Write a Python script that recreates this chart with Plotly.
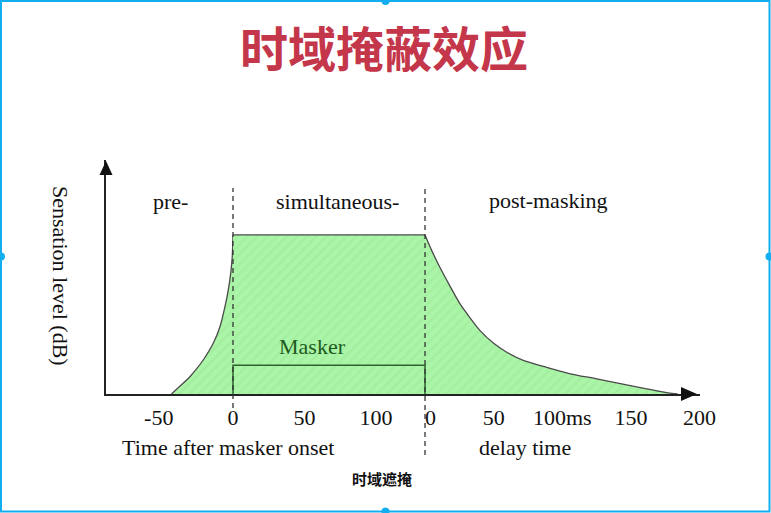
import plotly.graph_objects as go

# ---------------- data ----------------
# pre-masking rise (time after masker onset, ms)
pre_time = [-43, -37, -30.1, -25.5, -20.8, -13.8, -9.1, -5.6, -3.3, -1.6, -0.5, 0]
pre_level = [0, 4, 8.7, 12.6, 17.1, 25.5, 33.8, 43.9, 52.3, 60.7, 69.1, 80]

masker_end = 134.3          # masker offset on the onset time axis
plateau_level = 80
masker_level = 14.5

# post-masking decay (delay time after masker offset, ms)
post_delay = [0, 5, 10.9, 18, 25.5, 40.1, 50, 59.5, 72, 88.6, 105, 125.1, 145, 161.5, 178.5, 184]
post_level = [80, 72, 63.6, 54.5, 45.3, 31.9, 25.5, 21.0, 16.8, 13.4, 10.3, 7.6, 4.8, 2.6, 0.4, 0]
delay_scale = 0.96          # drawing scale of delay axis relative to onset axis

onset_tick_vals = [-50, 0, 50, 100]
onset_tick_text = ["-50\u00a0", "0", "50", "100"]
delay_tick_vals = [0, 50, 100, 150, 200]
delay_tick_text = ["\u00a0\u00a00", "50", "100ms", "150", "200"]

region_labels = ["pre-", "simultaneous-", "post-masking"]

# ---------------- layout constants ----------------
W_FIG, H_FIG = 771, 513
ML, MR, MT, MB = 106, 71, 160, 119
PW = W_FIG - ML - MR
PH = H_FIG - MT - MB
X_RANGE = [-88.8, 326.6]
Y_RANGE = [0, 117.7]
BASE_PX = H_FIG - MB


def px_x(p):
    return (p - ML) / PW


def px_y(p):
    return (BASE_PX - p) / PH


post_x = [masker_end + d * delay_scale for d in post_delay]

tick_vals = onset_tick_vals + [masker_end + d * delay_scale for d in delay_tick_vals]
tick_text = onset_tick_text + delay_tick_text

SERIF = "Liberation Serif, Times New Roman, serif"
FILL = "#abf5a8"
PATTERN = dict(shape="/", bgcolor=FILL, fgcolor="#9be996", size=7, solidity=0.35)
OUTLINE = dict(color="#4a4a4a", width=1.3)

fig = go.Figure()

segments = [
    (pre_time, pre_level, "spline"),
    ([0, masker_end], [plateau_level, plateau_level], "linear"),
    (post_x, post_level, "spline"),
]
for xs, ys, shp in segments:
    fig.add_trace(go.Scatter(
        x=xs, y=ys, mode="lines",
        line=dict(OUTLINE, shape=shp, smoothing=0.6) if shp == "spline" else dict(OUTLINE, shape=shp),
        fill="tozeroy", fillcolor=FILL, fillpattern=PATTERN,
        hoverinfo="skip", showlegend=False))

fig.add_trace(go.Scatter(
    x=[0, 0, masker_end, masker_end],
    y=[0, masker_level, masker_level, 0],
    mode="lines", line=dict(color="#2c632c", width=1.5),
    hoverinfo="skip", showlegend=False))

shapes = []
# dashed boundaries
for xv, ybot in [(0, 408), (masker_end, 455)]:
    shapes.append(dict(type="line", xref="x", yref="paper",
                       x0=xv, x1=xv, y0=px_y(ybot), y1=px_y(188),
                       line=dict(color="#333333", width=1.3, dash="5px,4px"),
                       layer="above"))


def tri(points):
    return "M" + " L".join(f"{px_x(a)},{px_y(b)}" for a, b in points) + " Z"


xend = ML + PW
shapes.append(dict(type="path", xref="paper", yref="paper",
                   path=tri([(xend - 3, BASE_PX), (xend - 19, BASE_PX - 7), (xend - 19, BASE_PX + 7)]),
                   fillcolor="#111111", line=dict(width=0), layer="above"))
shapes.append(dict(type="path", xref="paper", yref="paper",
                   path=tri([(ML, MT + 1), (ML - 6.5, MT + 15), (ML + 6.5, MT + 15)]),
                   fillcolor="#111111", line=dict(width=0), layer="above"))

# slide selection frame
CYAN = "#12aef0"
shapes.append(dict(type="rect", xref="paper", yref="paper",
                   x0=px_x(1), x1=px_x(W_FIG - 1.5), y0=px_y(H_FIG - 1.5), y1=px_y(1),
                   line=dict(color=CYAN, width=2)))
for cx, cy in [(W_FIG / 2, 1), (W_FIG / 2, H_FIG - 1.5), (1, H_FIG / 2), (W_FIG - 1.5, H_FIG / 2)]:
    shapes.append(dict(type="circle", xref="paper", yref="paper",
                       x0=px_x(cx - 4), x1=px_x(cx + 4), y0=px_y(cy + 4), y1=px_y(cy - 4),
                       fillcolor=CYAN, line=dict(width=0)))


def note(text, px_, py_, size=22, color="#111111", family=SERIF, **kw):
    return dict(xref="paper", yref="paper", x=px_x(px_), y=px_y(py_), text=text,
                showarrow=False, xanchor="center", yanchor="middle",
                font=dict(family=family, size=size, color=color), **kw)


annotations = []
for txt, (a, b) in zip(region_labels, [(170, 201), (337, 201), (548.5, 200)]):
    annotations.append(note(txt, a, b))
annotations.append(note("Masker", 312, 346, color="#1f5a1f"))
annotations.append(note("Time after masker onset", 228, 447))
annotations.append(note("delay time", 524.5, 447))
annotations.append(note("<b>时域遮掩</b>", 382, 478, size=15, family="Noto Sans CJK SC"))
annotations.append(note("Sensation level (dB)", 61, 276, textangle=90))

fig.update_layout(
    width=W_FIG, height=H_FIG,
    margin=dict(l=ML, r=MR, t=MT, b=MB),
    paper_bgcolor="white", plot_bgcolor="white",
    title=dict(text="<b>时域掩蔽效应</b>", x=384 / W_FIG, y=1 - 50 / H_FIG,
               xanchor="center", yanchor="middle",
               font=dict(family="Noto Sans CJK SC", size=48, color="#c4364a")),
    xaxis=dict(range=X_RANGE, showgrid=False, zeroline=False, showline=True,
               linecolor="#222222", linewidth=2, ticks="",
               tickmode="array", tickvals=tick_vals, ticktext=tick_text,
               tickfont=dict(family=SERIF, size=22, color="#111111"),
               ticklabelstandoff=3, fixedrange=True),
    yaxis=dict(range=Y_RANGE, showgrid=False, zeroline=False, showline=True,
               linecolor="#222222", linewidth=2, showticklabels=False, ticks="",
               fixedrange=True),
    shapes=shapes, annotations=annotations,
)

fig.write_html("out.html", config={"displayModeBar": False},
               post_script="document.body.style.margin='0';")
